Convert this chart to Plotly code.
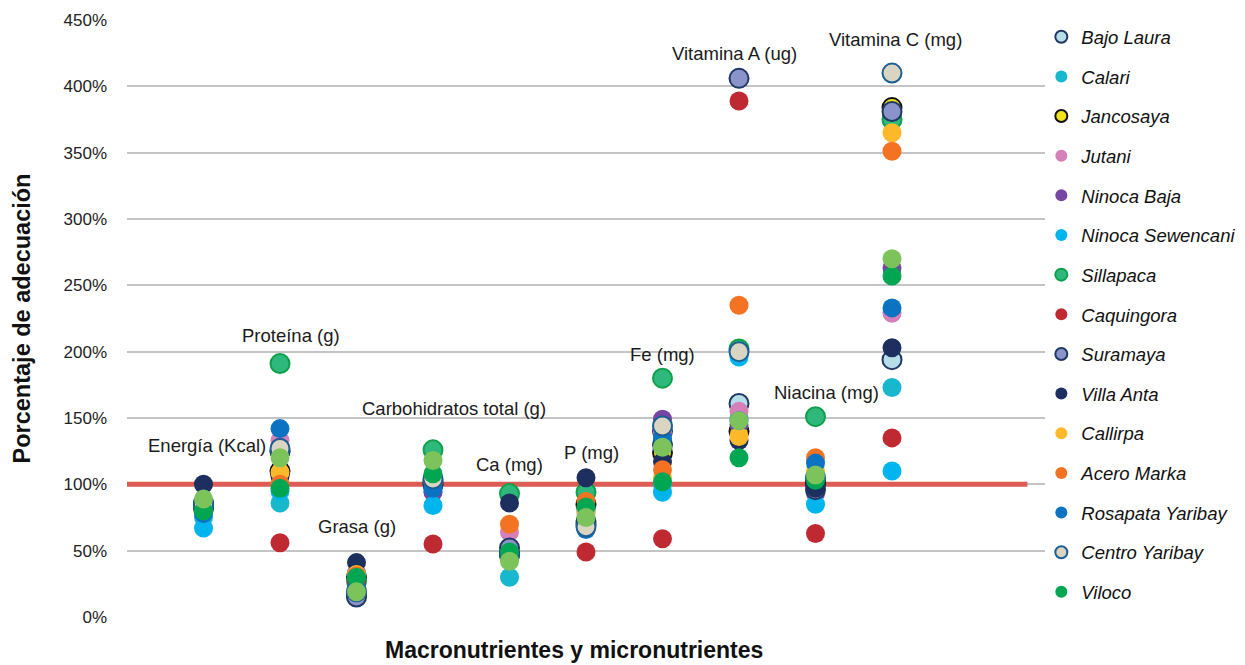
import plotly.graph_objects as go

# Nutrientes evaluados (eje X, sin etiquetas de marca)
nutrientes = ["Energía (Kcal)", "Proteína (g)", "Grasa (g)", "Carbohidratos total (g)",
              "Ca (mg)", "P (mg)", "Fe (mg)", "Vitamina A (ug)", "Niacina (mg)", "Vitamina C (mg)"]

# Porcentaje de adecuación por comunidad, en el orden de nutrientes
bajo_laura       = [85, 125, 17, 100, 48, 70, 140, 161, 100, 194]
calari           = [75, 86, 25, 95, 30, 80, 100, 150, 105, 173]
jancosaya        = [82, 110, 30, 102, 47, 85, 124, 140, 102, 384]
jutani           = [84, 133, 28, 98, 64, 78, 140, 155, 98, 229]
ninoca_baja      = [83, 128, 33, 94, 50, 82, 149, 145, 93, 263]
ninoca_sewencani = [67, 95, 24, 84, 45, 72, 94, 196, 85, 110]
sillapaca        = [84, 191, 27, 126, 93, 94, 180, 202, 151, 375]
caquingora       = [80, 56, 26, 55, 47, 49, 59, 389, 63, 135]
suramaya         = [86, 125, 15, 100, 52, 72, 130, 406, 96, 381]
villa_anta       = [100, 106, 41, 98, 86, 105, 117, 133, 97, 203]
callirpa         = [85, 109, 32, 103, 46, 80, 105, 136, 110, 365]
acero_marka      = [83, 100, 31, 101, 70, 87, 111, 235, 120, 351]
rosapata_yaribay = [78, 142, 22, 97, 48, 66, 135, 148, 116, 233]
centro_yaribay   = [85, 127, 19, 104, 47, 68, 144, 200, 105, 410]
viloco           = [80, 97, 30, 108, 49, 83, 102, 120, 103, 257]
serie_16         = [89, 120, 19, 118, 42, 75, 128, 148, 107, 270]

# Posición de la etiqueta de cada nutriente (porcentaje en el eje Y)
etiqueta_y = [129, 212, 68, 157, 115, 124, 198, 425, 169, 435]
etiqueta_dx = [0.05, 0.15, 0.0, 0.27, 0.0, 0.07, 0.0, -0.06, 0.14, 0.04]

y_ticks = [0, 50, 100, 150, 200, 250, 300, 350, 400, 450]
y_tick_text = ["0%", "50%", "100%", "150%", "200%", "250%", "300%", "350%", "400%", "450%"]
meta = 100  # línea de referencia 100 %

x_pos = list(range(1, len(nutrientes) + 1))

series = [
    ("Bajo Laura", bajo_laura, "#B7DEE8", "#1F3864", 2),
    ("Calari", calari, "#17B8CE", "#17B8CE", 0),
    ("Jancosaya", jancosaya, "#F2E21B", "#111111", 2),
    ("Jutani", jutani, "#D580B9", "#D580B9", 0),
    ("Ninoca Baja", ninoca_baja, "#7546A2", "#7546A2", 0),
    ("Ninoca Sewencani", ninoca_sewencani, "#00B4EE", "#00B4EE", 0),
    ("Sillapaca", sillapaca, "#2FB87C", "#0EA04A", 2),
    ("Caquingora", caquingora, "#BF2932", "#BF2932", 0),
    ("Suramaya", suramaya, "#8A93CA", "#1F3864", 2),
    ("Villa Anta", villa_anta, "#1D2F5E", "#1D2F5E", 0),
    ("Callirpa", callirpa, "#FDB92A", "#FDB92A", 0),
    ("Acero Marka", acero_marka, "#F47322", "#F47322", 0),
    ("Rosapata Yaribay", rosapata_yaribay, "#0B73C2", "#0B73C2", 0),
    ("Centro Yaribay", centro_yaribay, "#DAD5C2", "#1C5F94", 2),
    ("Viloco", viloco, "#00A652", "#00A652", 0),
]

fig = go.Figure()

# Línea de referencia al 100 %
fig.add_trace(go.Scatter(
    x=[0, 11.77], y=[meta, meta], mode="lines",
    line=dict(color="#DD5B55", width=5), showlegend=False, hoverinfo="skip"))

for i, (name, vals, fill, edge, lw) in enumerate(series):
    fig.add_trace(go.Scatter(
        x=x_pos, y=vals, mode="markers", name=name, legendgroup=f"g{i}",
        marker=dict(size=19, color=fill, line=dict(color=edge, width=lw))))

fig.add_trace(go.Scatter(
    x=x_pos, y=serie_16, mode="markers", name="Serie 16", showlegend=False,
    marker=dict(size=19, color="#7CC35C", line=dict(width=0))))

for xi, name, yl, dx in zip(x_pos, nutrientes, etiqueta_y, etiqueta_dx):
    fig.add_annotation(x=xi + dx, y=yl, text=name, showarrow=False,
                       font=dict(size=18.5, color="#1a1a1a"))

fig.add_annotation(x=0.487, y=-0.056, xref="paper", yref="paper", yanchor="middle",
                   text="<b>Macronutrientes y micronutrientes</b>", showarrow=False,
                   font=dict(size=23, color="#111111"))

fig.update_layout(
    width=1245, height=665,
    margin=dict(l=127, r=200, t=20, b=48, autoexpand=False),
    paper_bgcolor="white", plot_bgcolor="white",
    font=dict(family="Liberation Sans, Arial, sans-serif", color="#222222"),
    showlegend=True,
    legend=dict(x=0.996, xanchor="left", y=1.003, yanchor="top",
                font=dict(size=18.5, style="italic", color="#111111"),
                itemsizing="constant", tracegroupgap=12.6, maxheight=650,
                bgcolor="rgba(0,0,0,0)"),
    xaxis=dict(range=[0, 12], showticklabels=False, showgrid=False,
               zeroline=False, showline=False, fixedrange=True),
    yaxis=dict(range=[0, 450], tickvals=y_ticks, ticktext=y_tick_text,
               showgrid=True, gridcolor="#C4C4C4", gridwidth=1.5,
               zeroline=False, showline=False, ticks="", ticklabelstandoff=19,
               tickfont=dict(size=17, color="#222222"),
               title=dict(text="<b>Porcentaje de adecuación</b>",
                          font=dict(size=23.5, color="#111111"), standoff=26)),
)

fig.write_html("out.html")
